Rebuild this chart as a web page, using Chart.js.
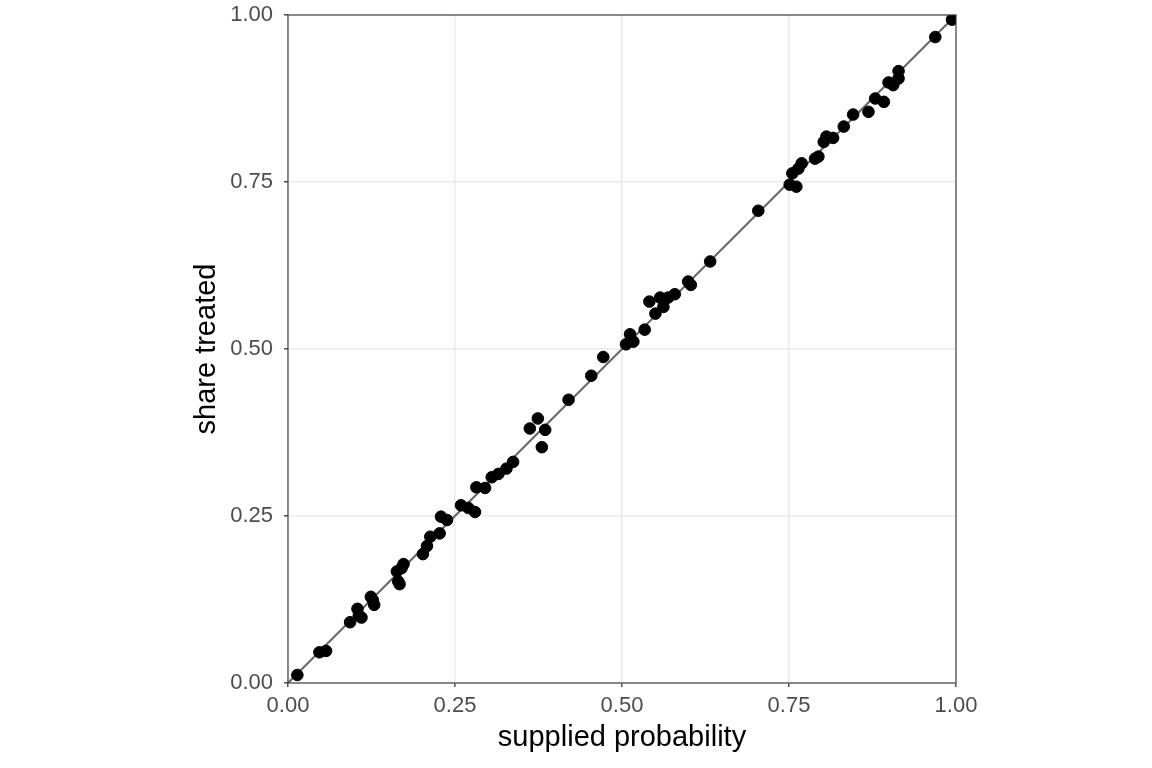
<!DOCTYPE html>
<html>
<head>
<meta charset="utf-8">
<script src="https://cdn.jsdelivr.net/npm/chart.js@4"></script>
<style>
  html, body { margin: 0; padding: 0; background: #fff; }
  #wrap { width: 1152px; height: 768px; }
</style>
</head>
<body>
<div id="wrap"><canvas id="chart" width="1152" height="768"></canvas></div>
<script>
// supplied probability vs. share treated
const suppliedProb = [
  0.014, 0.047, 0.057, 0.093, 0.104, 0.106, 0.110, 0.124, 0.129, 0.127,
  0.163, 0.165, 0.167, 0.170, 0.173, 0.202, 0.208, 0.213, 0.227, 0.229,
  0.238, 0.259, 0.270, 0.280, 0.282, 0.295, 0.305, 0.315, 0.327, 0.337,
  0.362, 0.374, 0.385, 0.380, 0.420, 0.454, 0.472, 0.506, 0.512, 0.517,
  0.534, 0.541, 0.550, 0.557, 0.562, 0.569, 0.579, 0.599, 0.603, 0.632,
  0.704, 0.751, 0.761, 0.755, 0.764, 0.769, 0.789, 0.794, 0.802, 0.806,
  0.816, 0.832, 0.846, 0.869, 0.879, 0.892, 0.899, 0.906, 0.914, 0.914,
  0.969, 0.994
];
const shareTreated = [
  0.012, 0.046, 0.048, 0.091, 0.111, 0.101, 0.098, 0.129, 0.117, 0.124,
  0.167, 0.152, 0.148, 0.172, 0.178, 0.193, 0.205, 0.219, 0.224, 0.249,
  0.244, 0.266, 0.262, 0.256, 0.293, 0.292, 0.308, 0.313, 0.321, 0.331,
  0.381, 0.396, 0.379, 0.353, 0.424, 0.460, 0.488, 0.507, 0.522, 0.511,
  0.529, 0.571, 0.553, 0.577, 0.563, 0.577, 0.582, 0.601, 0.596, 0.631,
  0.707, 0.746, 0.743, 0.763, 0.770, 0.778, 0.785, 0.788, 0.810, 0.818,
  0.816, 0.833, 0.851, 0.855, 0.875, 0.870, 0.899, 0.895, 0.905, 0.916,
  0.967, 0.993
];
// reference line y = x
const refLineX = [0, 1];
const refLineY = [0, 1];
const tickValues = [0, 0.25, 0.5, 0.75, 1];

const FONT = '"Liberation Sans", Arial, sans-serif';

const points = suppliedProb.map((x, i) => ({ x: x, y: shareTreated[i] }));
const refLine = refLineX.map((x, i) => ({ x: x, y: refLineY[i] }));

// draw the panel border on top of everything
const panelBorder = {
  id: 'panelBorder',
  afterDraw(chart) {
    const { ctx, chartArea: a } = chart;
    ctx.save();
    ctx.strokeStyle = '#333333';
    ctx.lineWidth = 1.1;
    ctx.strokeRect(a.left, a.top, a.right - a.left, a.bottom - a.top);
    ctx.restore();
  }
};

const axisCommon = {
  type: 'linear',
  min: 0,
  max: 1,
  afterBuildTicks: (s) => { s.ticks = tickValues.map(v => ({ value: v })); },
  grid: { color: '#ebebeb', lineWidth: 1.6, tickColor: '#333333', tickLength: 4, tickWidth: 1.3 },
  border: { display: false },
  ticks: {
    color: '#4d4d4d',
    font: { family: FONT, size: 22 },
    callback: (v) => v.toFixed(2)
  }
};

new Chart(document.getElementById('chart'), {
  type: 'scatter',
  data: {
    datasets: [
      {
        type: 'line',
        data: refLine,
        borderColor: '#666666',
        borderWidth: 2,
        pointRadius: 0,
        fill: false,
        order: 2
      },
      {
        data: points,
        backgroundColor: '#000000',
        borderColor: '#000000',
        pointRadius: 5.8,
        pointHoverRadius: 5.8,
        order: 1
      }
    ]
  },
  options: {
    responsive: false,
    animation: false,
    events: [],
    layout: { padding: { left: 190, right: 196, top: 15, bottom: 10 } },
    plugins: { legend: { display: false }, tooltip: { enabled: false } },
    scales: {
      x: {
        ...axisCommon,
        afterFit: (s) => { s.height = 75; s.paddingLeft = 0; s.paddingRight = 0; },
        ticks: { ...axisCommon.ticks, padding: 6 },
        title: { display: true, text: 'supplied probability', color: '#000', font: { family: FONT, size: 29 }, padding: { top: 2, bottom: 3 } }
      },
      y: {
        ...axisCommon,
        afterFit: (s) => { s.width = 98; s.paddingTop = 0; s.paddingBottom = 0; },
        ticks: { ...axisCommon.ticks, padding: 11 },
        title: { display: true, text: 'share treated', color: '#000', font: { family: FONT, size: 29 }, padding: { top: 0, bottom: 0 } }
      }
    }
  },
  plugins: [panelBorder]
});
</script>
</body>
</html>
